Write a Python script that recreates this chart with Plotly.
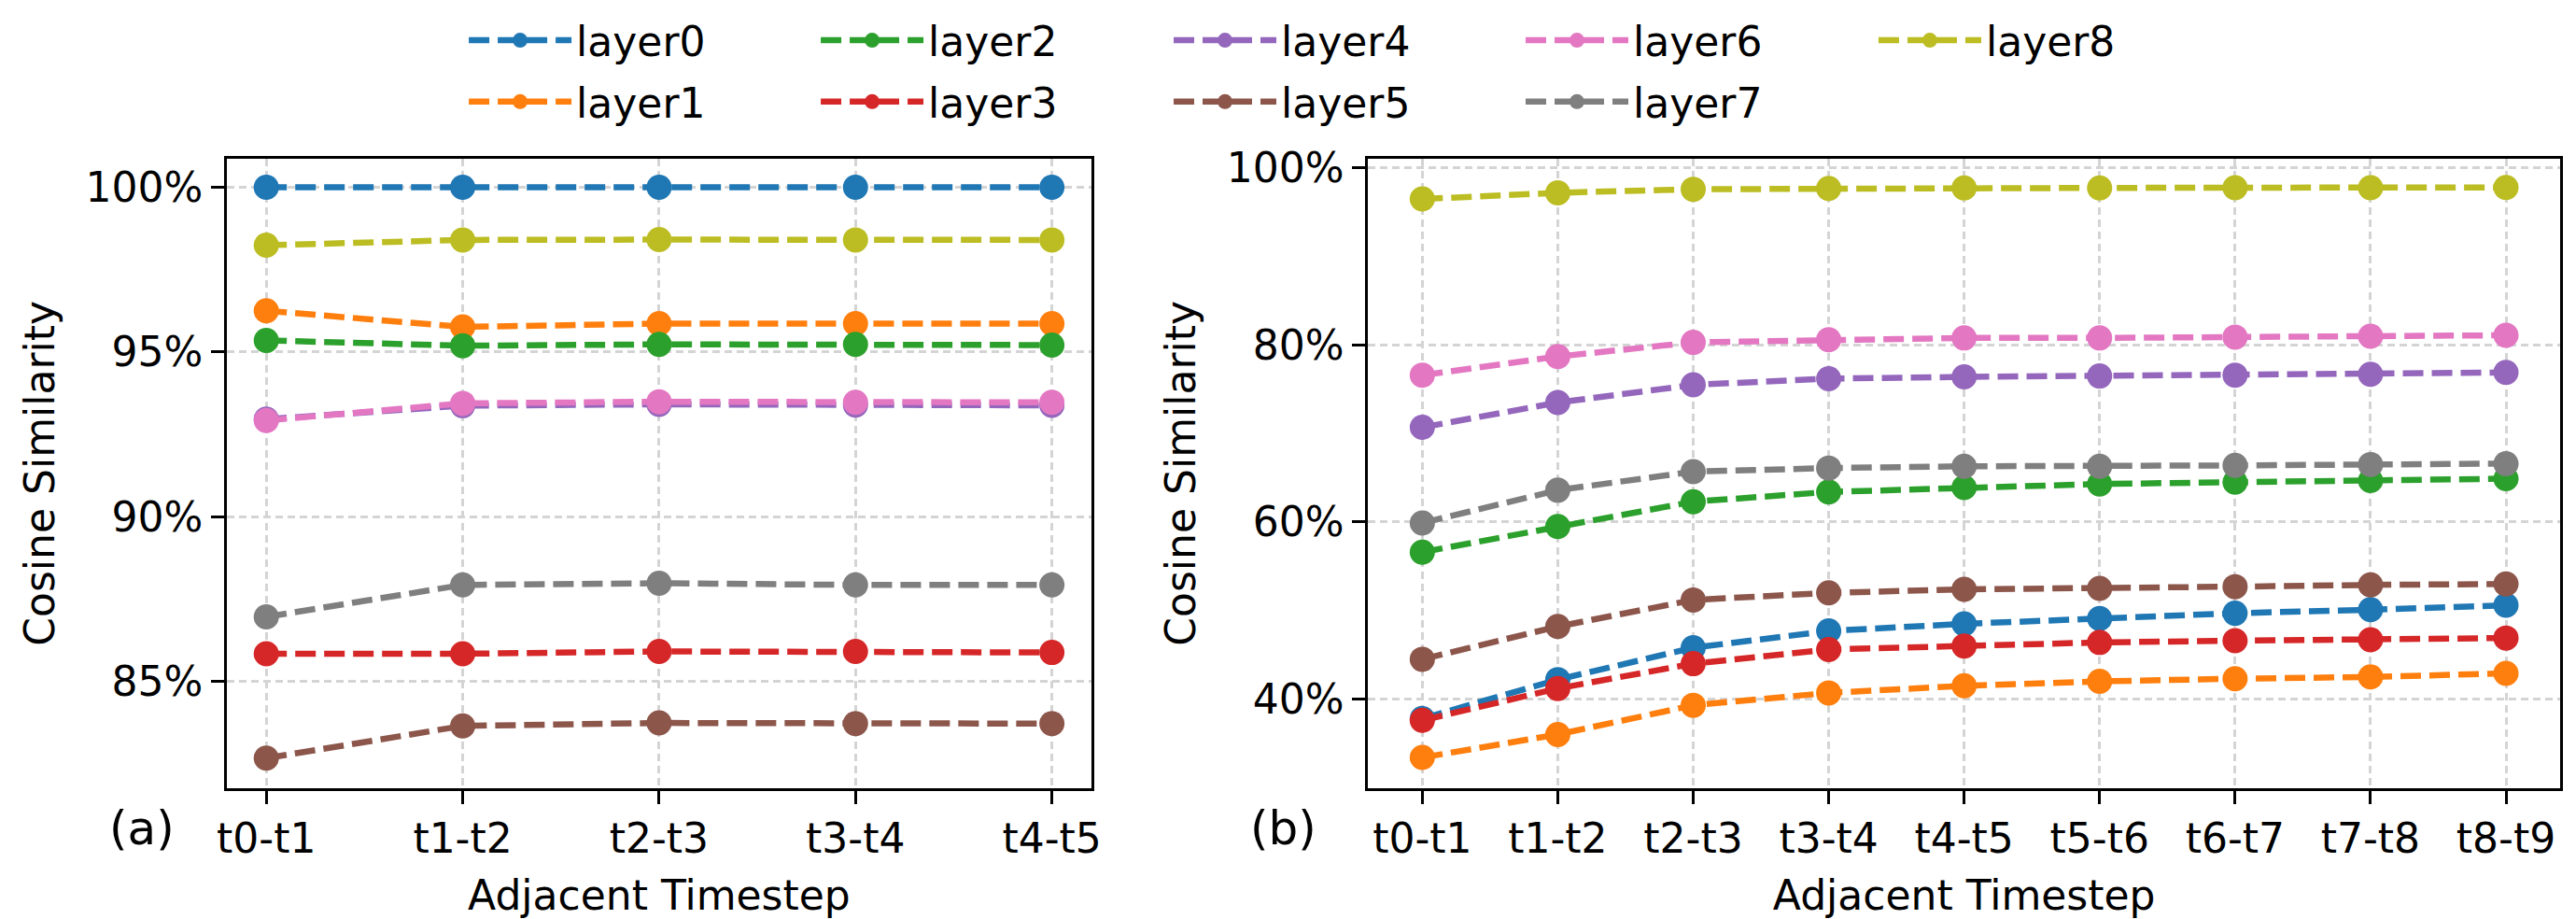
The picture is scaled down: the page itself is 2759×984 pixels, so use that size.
import plotly.graph_objects as go

W, H = 2759, 984

layers = ["layer0", "layer1", "layer2", "layer3", "layer4", "layer5", "layer6", "layer7", "layer8"]
colors = ["#1f77b4", "#ff7f0e", "#2ca02c", "#d62728", "#9467bd",
          "#8c564b", "#e377c2", "#7f7f7f", "#bcbd22"]

steps_a = ["t0-t1", "t1-t2", "t2-t3", "t3-t4", "t4-t5"]
steps_b = ["t0-t1", "t1-t2", "t2-t3", "t3-t4", "t4-t5", "t5-t6", "t6-t7", "t7-t8", "t8-t9"]

# (a) cosine similarity in percent
a_layer0 = [100.0, 100.0, 100.0, 100.0, 100.0]
a_layer1 = [96.25, 95.76, 95.86, 95.86, 95.86]
a_layer2 = [95.35, 95.19, 95.23, 95.23, 95.21]
a_layer3 = [85.84, 85.84, 85.91, 85.91, 85.88]
a_layer4 = [92.96, 93.37, 93.41, 93.39, 93.38]
a_layer5 = [82.67, 83.65, 83.74, 83.72, 83.72]
a_layer6 = [92.92, 93.44, 93.49, 93.47, 93.47]
a_layer7 = [86.96, 87.93, 87.98, 87.93, 87.93]
a_layer8 = [98.24, 98.4, 98.41, 98.4, 98.4]

# (b) cosine similarity in percent
b_layer0 = [37.8, 42.2, 45.8, 47.7, 48.5, 49.1, 49.7, 50.1, 50.6]
b_layer1 = [33.4, 36.0, 39.3, 40.7, 41.5, 42.0, 42.3, 42.5, 42.9]
b_layer2 = [56.6, 59.5, 62.3, 63.4, 63.9, 64.3, 64.5, 64.7, 64.9]
b_layer3 = [37.6, 41.2, 44.0, 45.6, 46.0, 46.4, 46.6, 46.7, 46.9]
b_layer4 = [70.7, 73.5, 75.5, 76.2, 76.4, 76.5, 76.6, 76.7, 76.9]
b_layer5 = [44.5, 48.2, 51.2, 52.0, 52.4, 52.5, 52.7, 52.9, 53.0]
b_layer6 = [76.6, 78.7, 80.3, 80.6, 80.8, 80.8, 80.9, 81.0, 81.1]
b_layer7 = [59.9, 63.6, 65.7, 66.1, 66.3, 66.3, 66.4, 66.5, 66.6]
b_layer8 = [96.5, 97.2, 97.6, 97.7, 97.75, 97.75, 97.78, 97.78, 97.8]

a_series = [a_layer0, a_layer1, a_layer2, a_layer3, a_layer4, a_layer5, a_layer6, a_layer7, a_layer8]
b_series = [b_layer0, b_layer1, b_layer2, b_layer3, b_layer4, b_layer5, b_layer6, b_layer7, b_layer8]

yticks_a = [85, 90, 95, 100]
yticks_b = [40, 60, 80, 100]
ylabels_a = ["85%", "90%", "95%", "100%"]
ylabels_b = ["40%", "60%", "80%", "100%"]

FONT = "DejaVu Sans"
FS = 44
LW = 6.5
DASH = "22px,9px"
MS = 27

fig = go.Figure()

legend_names = ["legend"] + [f"legend{i}" for i in range(2, 10)]

for i, name in enumerate(layers):
    fig.add_trace(go.Scatter(
        x=steps_a, y=a_series[i], name=name, mode="lines+markers",
        line=dict(color=colors[i], width=LW, dash=DASH),
        marker=dict(color=colors[i], size=MS),
        xaxis="x", yaxis="y", legend=legend_names[i], showlegend=True,
    ))
for i, name in enumerate(layers):
    fig.add_trace(go.Scatter(
        x=steps_b, y=b_series[i], name=name, mode="lines+markers",
        line=dict(color=colors[i], width=LW, dash=DASH),
        marker=dict(color=colors[i], size=MS),
        xaxis="x2", yaxis="y2", legend=legend_names[i], showlegend=False,
    ))

axis_common = dict(
    showline=True, linecolor="black", linewidth=3, mirror=True,
    ticks="outside", ticklen=14, tickwidth=3, tickcolor="black",
    showgrid=True, gridcolor="#d4d4d4", gridwidth=2.5, griddash="8px,5px",
    zeroline=False,
    tickfont=dict(family=FONT, size=FS, color="black"),
    title_font=dict(family=FONT, size=FS, color="black"),
)

yd = [1 - 843 / H, 1 - 157 / H]

fig.update_layout(
    width=W, height=H,
    margin=dict(l=0, r=0, t=0, b=0),
    paper_bgcolor="white", plot_bgcolor="white",
    font=dict(family=FONT, size=FS, color="black"),
    xaxis=dict(domain=[234 / W, 1167 / W], type="category", range=[-0.2, 4.2],
               title=dict(text="Adjacent Timestep", standoff=30), anchor="y", **axis_common),
    yaxis=dict(domain=yd, range=[81.77, 100.86], tickmode="array",
               tickvals=yticks_a, ticktext=ylabels_a,
               title=dict(text="Cosine Similarity", standoff=20), anchor="x", **axis_common),
    xaxis2=dict(domain=[1466 / W, 2753 / W], type="category", range=[-0.4, 8.4],
                title=dict(text="Adjacent Timestep", standoff=30), anchor="y2", **axis_common),
    yaxis2=dict(domain=yd, range=[29.97, 101.03], tickmode="array",
                tickvals=yticks_b, ticktext=ylabels_b,
                title=dict(text="Cosine Similarity", standoff=20), anchor="x2", **axis_common),
    showlegend=True,
)

# legend text starts (px) per column, and row centres (px)
col_text_x = [618, 998, 1379, 1759, 2140]
row_y = [28, 95]
ITEMW = 110
order_pos = {0: (0, 0), 1: (0, 1), 2: (1, 0), 3: (1, 1), 4: (2, 0),
             5: (2, 1), 6: (3, 0), 7: (3, 1), 8: (4, 0)}
for i in range(9):
    c, r = order_pos[i]
    fig.update_layout({legend_names[i]: dict(
        x=(col_text_x[c] - ITEMW - 18) / W, xanchor="left",
        y=1 - row_y[r] / H, yanchor="middle",
        bgcolor="rgba(0,0,0,0)", borderwidth=0,
        font=dict(family=FONT, size=FS, color="black"),
        itemsizing="trace", itemwidth=ITEMW,
    )})

fig.add_annotation(text="(a)", x=142 / W, y=1 - 887 / H, xref="paper", yref="paper",
                   showarrow=False, xanchor="center", yanchor="middle",
                   font=dict(family=FONT, size=50, color="black"))
fig.add_annotation(text="(b)", x=1374 / W, y=1 - 887 / H, xref="paper", yref="paper",
                   showarrow=False, xanchor="center", yanchor="middle",
                   font=dict(family=FONT, size=50, color="black"))

fig.write_html("out.html")
